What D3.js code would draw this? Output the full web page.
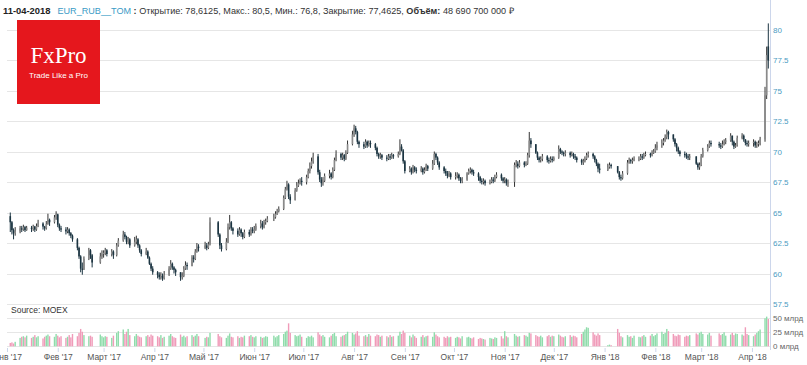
<!DOCTYPE html>
<html>
<head>
<meta charset="utf-8">
<script src="https://cdn.jsdelivr.net/npm/d3@7"></script>
<style>
  body { margin: 0; background: #fff; }
  svg { display: block; font-family: "Liberation Sans", Arial, sans-serif; }
</style>
</head>
<body>
<div id="chart-area"></div>
<script>
// trading calendar: weekdays minus exchange holidays
var holidays = ["2017-02-23", "2017-02-24", "2017-03-08", "2017-05-01", "2017-05-08", "2017-05-09",
  "2017-06-12", "2017-11-06", "2018-01-01", "2018-01-02", "2018-01-08", "2018-02-23",
  "2018-03-08", "2018-03-09"];

// daily closes, one line per month
var closes = [
  64.20, 63.55, 63.30, 63.45, 63.70, 63.60, 63.80, 63.55, 63.75, 63.65, 63.85, 63.60, 63.90, 64.10, 63.85, 63.70, 64.05, 64.40, 64.20, 64.60, 64.85,
  64.00, 63.70, 63.60, 63.45, 63.60, 63.30, 63.10, 62.80, 62.10, 61.40, 60.40, 60.30, 61.20, 61.90, 61.50, 60.90, 61.40, 61.60,
  61.70, 61.90, 61.60, 61.80, 61.50, 62.30, 62.70, 63.20, 63.00, 62.60, 62.80, 62.30, 62.60, 62.80, 62.30, 61.90, 61.60, 61.80, 61.30, 60.80, 60.40, 60.10,
  59.90, 59.70, 59.80, 59.60, 59.90, 60.40, 60.80, 60.50, 60.30, 60.10, 59.70, 59.80, 60.40, 60.70, 60.60, 61.30, 61.20, 61.80, 62.20, 62.10,
  62.30, 62.10, 62.40, 64.20, 63.20, 62.30, 62.00, 62.60, 63.80, 64.20, 63.70, 63.50, 63.20, 63.60, 63.30, 63.00, 63.40, 63.20, 63.60, 63.50,
  63.60, 63.90, 64.10, 63.80, 64.20, 64.30, 64.50, 64.60, 64.90, 65.10, 65.30, 66.20, 66.90, 67.30, 66.30, 66.00, 66.80, 67.20, 67.40, 67.60, 67.50,
  67.90, 68.40, 68.80, 69.20, 69.60, 68.30, 67.70, 67.40, 67.60, 68.00, 68.20, 67.90, 68.50, 69.30, 69.80, 69.50, 69.70, 69.40, 69.90, 70.60, 71.40,
  71.90, 71.60, 70.80, 70.60, 70.40, 70.80, 70.50, 70.70, 70.60, 70.30, 69.80, 69.60, 69.70, 69.50, 69.40, 69.60, 69.50, 69.70, 69.60, 69.80, 70.40, 70.10, 69.20,
  68.40, 68.60, 68.30, 68.70, 68.50, 68.40, 68.60, 68.30, 68.50, 68.80, 68.60, 69.00, 69.80, 69.50, 69.10, 68.70, 68.40, 68.20, 68.00, 68.20, 67.90,
  68.00, 68.10, 67.80, 67.60, 67.70, 68.20, 68.40, 68.50, 68.30, 68.20, 67.90, 67.60, 67.50, 67.60, 67.40, 67.50, 67.70, 67.60, 67.90, 68.10, 67.80, 67.60,
  67.70, 67.40, 67.50, 68.90, 69.00, 68.80, 69.10, 68.90, 69.00, 69.70, 70.90, 70.60, 69.90, 69.50, 69.30, 69.40, 69.60, 69.30, 69.20, 69.40, 69.30,
  69.50, 70.20, 70.00, 69.90, 69.80, 69.90, 69.70, 69.80, 69.60, 69.50, 69.30, 69.10, 69.20, 69.40, 69.70, 69.80, 69.60, 69.30, 69.00, 68.60, 68.50,
  68.70, 68.90, 68.80, 68.30, 67.90, 67.80, 68.20, 69.10, 69.30, 69.20, 69.30, 69.40, 69.40, 69.60, 69.50, 69.70, 69.80, 69.70, 69.90, 70.00,
  70.30, 70.50, 70.70, 70.90, 71.20, 71.60, 71.40, 71.00, 70.60, 70.30, 70.00, 69.80, 69.70, 69.60, 69.50, 69.60, 69.00, 68.70, 68.90,
  69.60, 70.10, 70.40, 70.70, 70.60, 70.50, 70.40, 70.60, 70.80, 70.90, 71.30, 70.80, 70.40, 70.50, 71.10, 71.30, 71.00, 70.70, 70.60, 70.70,
  70.80, 70.50, 70.60, 70.70, 71.00, 74.60, 77.90, 77.4625
];

var highs = [
  65.0, 64.3, 63.7, 63.8, 63.9, 63.9, 64.0, 63.9, 63.9, 63.9, 64.0, 63.9, 64.1, 64.4, 64.2, 63.9, 64.3, 64.9, 64.5, 64.8, 65.1,
  64.9, 64.1, 63.9, 63.8, 63.8, 63.7, 63.4, 63.2, 62.9, 62.2, 61.5, 60.9, 61.4, 62.1, 62.0, 61.6, 61.7, 61.9,
  61.9, 62.1, 62.0, 62.0, 61.9, 62.5, 62.9, 63.5, 63.4, 63.1, 63.0, 62.9, 63.0, 63.1, 62.9, 62.4, 62.0, 62.1, 61.9, 61.4, 60.9, 60.6,
  60.2, 60.1, 60.1, 60.0, 60.2, 60.6, 61.1, 60.9, 60.6, 60.4, 60.1, 60.1, 60.6, 61.0, 60.9, 61.5, 61.5, 62.0, 62.5, 62.4,
  62.6, 62.5, 62.6, 64.6, 64.3, 63.3, 62.5, 62.9, 64.1, 64.8, 64.3, 63.8, 63.7, 63.8, 63.7, 63.4, 63.6, 63.6, 63.8, 63.8,
  63.9, 64.1, 64.4, 64.3, 64.4, 64.5, 64.7, 64.9, 65.1, 65.3, 65.5, 66.4, 67.1, 67.6, 67.4, 66.5, 67.0, 67.5, 67.7, 67.8, 67.9,
  68.1, 68.6, 69.1, 69.5, 69.9, 69.8, 68.5, 67.9, 67.9, 68.2, 68.5, 68.3, 68.7, 69.5, 70.1, 69.9, 69.9, 69.8, 70.1, 70.9, 71.7,
  72.2, 72.1, 71.7, 70.9, 70.8, 71.0, 70.9, 70.9, 70.9, 70.7, 70.4, 69.9, 69.9, 69.8, 69.7, 69.8, 69.8, 69.9, 69.8, 70.0, 71.0, 70.6, 70.2,
  69.3, 68.8, 68.7, 68.9, 68.8, 68.7, 68.8, 68.7, 68.7, 69.0, 68.9, 69.3, 70.0, 69.9, 69.6, 69.2, 68.8, 68.6, 68.4, 68.4, 68.3,
  68.3, 68.3, 68.2, 67.9, 67.9, 68.3, 68.6, 68.7, 68.6, 68.5, 68.3, 68.0, 67.8, 67.8, 67.7, 67.7, 67.9, 67.9, 68.1, 68.3, 68.2, 67.9,
  67.9, 67.8, 67.7, 69.1, 69.3, 69.2, 69.3, 69.2, 69.2, 69.9, 71.6, 71.1, 70.6, 70.0, 69.6, 69.6, 69.8, 69.7, 69.5, 69.6, 69.6,
  69.6, 70.5, 70.3, 70.1, 70.0, 70.1, 70.0, 70.0, 69.9, 69.8, 69.6, 69.4, 69.4, 69.6, 69.9, 70.0, 69.9, 69.7, 69.4, 69.1, 69.0,
  69.0, 69.1, 69.0, 68.8, 68.4, 68.1, 68.4, 69.3, 69.5, 69.4, 69.5, 69.6, 69.6, 69.8, 69.8, 69.9, 70.0, 69.9, 70.1, 70.2,
  70.6, 70.8, 71.0, 71.1, 71.4, 71.8, 71.7, 71.4, 71.1, 70.7, 70.4, 70.1, 70.0, 69.9, 69.8, 69.8, 69.6, 69.1, 69.1,
  69.8, 70.3, 70.6, 70.9, 70.9, 70.8, 70.7, 70.9, 71.0, 71.1, 71.5, 71.3, 70.9, 70.7, 71.3, 71.5, 71.4, 71.0, 70.9, 70.9,
  71.0, 70.9, 70.8, 70.9, 71.2, 75.3, 78.6, 80.5
];

var lows = [
  63.4, 63.2, 62.8, 63.1, 63.3, 63.4, 63.5, 63.4, 63.5, 63.4, 63.5, 63.4, 63.5, 63.8, 63.6, 63.5, 63.6, 64.0, 63.9, 64.1, 64.4,
  63.8, 63.5, 63.4, 63.2, 63.3, 63.1, 62.9, 62.6, 61.9, 61.2, 60.1, 59.9, 60.3, 61.1, 61.2, 60.5, 60.8, 61.2,
  61.3, 61.5, 61.4, 61.4, 61.2, 61.4, 62.2, 62.6, 62.8, 62.4, 62.4, 62.1, 62.2, 62.4, 62.1, 61.7, 61.4, 61.5, 61.2, 60.7, 60.2, 59.9,
  59.6, 59.5, 59.5, 59.4, 59.5, 59.8, 60.3, 60.3, 60.0, 59.8, 59.4, 59.5, 59.7, 60.3, 60.3, 60.6, 60.9, 61.1, 61.7, 61.8,
  62.0, 61.9, 62.0, 62.3, 63.0, 62.0, 61.8, 61.9, 62.5, 63.6, 63.5, 63.2, 63.0, 63.1, 63.0, 62.8, 62.9, 63.0, 63.1, 63.3,
  63.3, 63.5, 63.7, 63.6, 63.7, 64.0, 64.2, 64.3, 64.5, 64.8, 65.0, 65.2, 66.1, 66.8, 66.1, 65.7, 66.0, 66.7, 67.1, 67.3, 67.2,
  67.3, 67.8, 68.2, 68.6, 69.0, 68.1, 67.5, 67.1, 67.2, 67.5, 67.8, 67.7, 67.8, 68.4, 69.2, 69.3, 69.3, 69.2, 69.3, 69.8, 70.5,
  71.2, 71.4, 70.6, 70.3, 70.2, 70.3, 70.3, 70.4, 70.3, 70.1, 69.6, 69.4, 69.4, 69.3, 69.2, 69.3, 69.3, 69.4, 69.4, 69.5, 69.7, 70.0, 69.0,
  68.2, 68.3, 68.1, 68.2, 68.3, 68.2, 68.3, 68.1, 68.2, 68.4, 68.4, 68.5, 68.9, 69.3, 68.9, 68.5, 68.2, 68.0, 67.8, 67.9, 67.7,
  67.7, 67.8, 67.6, 67.4, 67.4, 67.6, 68.1, 68.2, 68.1, 68.0, 67.6, 67.4, 67.3, 67.3, 67.2, 67.3, 67.4, 67.4, 67.5, 67.8, 67.6, 67.4,
  67.4, 67.2, 67.1, 67.1, 68.7, 68.6, 68.7, 68.7, 68.8, 68.9, 69.5, 70.3, 69.8, 69.3, 69.1, 69.1, 69.2, 69.1, 69.0, 69.1, 69.1,
  69.2, 69.4, 69.8, 69.7, 69.6, 69.6, 69.5, 69.6, 69.4, 69.3, 69.1, 68.9, 68.9, 69.1, 69.3, 69.5, 69.4, 69.1, 68.8, 68.3, 68.2,
  68.4, 68.6, 68.6, 68.2, 67.7, 67.6, 67.7, 68.1, 69.0, 69.0, 69.0, 69.2, 69.2, 69.3, 69.3, 69.4, 69.6, 69.5, 69.6, 69.8,
  69.9, 70.1, 70.3, 70.5, 70.8, 71.0, 71.0, 70.8, 70.4, 70.0, 69.8, 69.6, 69.5, 69.4, 69.3, 69.3, 68.9, 68.5, 68.5,
  68.8, 69.5, 70.0, 70.3, 70.4, 70.3, 70.2, 70.3, 70.5, 70.6, 70.8, 70.5, 70.2, 70.3, 70.4, 71.0, 70.8, 70.5, 70.4, 70.4,
  70.4, 70.3, 70.3, 70.4, 70.5, 70.8, 74.3, 76.8
];

// opens follow the previous close except on these days
var gapOpens = { "2017-01-03": 64.7, "2018-04-11": 78.6125 };

// daily volume, billions of roubles
var volumes = [
  6, 7, 5, 8, 15, 17, 18, 16, 19, 15, 17, 20, 16, 18, 14, 17, 19, 21, 18, 17, 22,
  19, 16, 18, 15, 17, 20, 16, 22, 18, 24, 31, 26, 20, 18, 19, 17, 21, 18,
  16, 18, 17, 15, 19, 24, 27, 30, 22, 26, 31, 20, 18, 22, 19, 17, 16, 18, 20, 17, 21, 19,
  18, 16, 20, 15, 17, 19, 22, 18, 16, 15, 21, 17, 19, 16, 18, 20, 17, 19, 22, 18,
  15, 17, 16, 24, 22, 18, 16, 15, 19, 23, 17, 16, 18, 15, 17, 16, 19, 18, 20, 17,
  16, 18, 17, 15, 16, 18, 17, 19, 16, 18, 20, 22, 26, 28, 41, 24, 20, 18, 19, 21, 17,
  15, 18, 17, 19, 16, 25, 21, 18, 20, 17, 16, 19, 22, 24, 18, 17, 19, 20, 22, 26, 24,
  21, 23, 27, 19, 18, 20, 17, 22, 19, 18, 21, 20, 17, 19, 18, 16, 20, 17, 18, 19, 26, 22, 28,
  24, 19, 16, 21, 18, 15, 17, 20, 16, 18, 19, 17, 25, 21, 18, 16, 17, 15, 18, 16, 17,
  15, 17, 16, 14, 18, 16, 17, 15, 14, 16, 13, 15, 14, 13, 12, 15, 14, 13, 16, 15, 18, 14,
  27, 18, 16, 22, 19, 17, 18, 20, 19, 17, 24, 23, 20, 18, 17, 19, 16, 18, 20, 17, 19,
  18, 21, 19, 17, 16, 18, 20, 17, 19, 18, 16, 22, 26, 30, 34, 33, 25, 21, 19, 23, 20,
  2, 3, 2, 31, 24, 18, 16, 20, 17, 18, 15, 19, 17, 16, 18, 20, 17, 19, 22, 18,
  20, 23, 26, 22, 24, 31, 27, 22, 19, 18, 21, 20, 17, 19, 18, 20, 23, 21, 24,
  26, 22, 21, 24, 19, 23, 20, 22, 25, 19, 21, 24, 20, 23, 22, 21, 19, 34, 22, 20,
  18, 21, 24, 27, 30, 50, 53, 48.69
];

var priceTicks = [57.5, 60, 62.5, 65, 67.5, 70, 72.5, 75, 77.5, 80];
var volumeTicks = [0, 25, 50];
var monthLabels = ["Янв '17", "Фев '17", "Март '17", "Апр '17", "Май '17", "Июн '17", "Июл '17", "Авг '17",
  "Сен '17", "Окт '17", "Ноя '17", "Дек '17", "Янв '18", "Фев '18", "Март '18", "Апр '18"];

var width = 807, height = 365;
var fmt = d3.timeFormat("%Y-%m-%d");

var days = d3.timeDay.range(new Date(2017, 0, 3), new Date(2018, 3, 12))
	.filter(function(d) { return d.getDay() !== 0 && d.getDay() !== 6 && holidays.indexOf(fmt(d)) < 0; });

var data = days.map(function(d, i) {
	var key = fmt(d);
	var open = gapOpens[key] !== undefined ? gapOpens[key] : closes[i - 1];
	var close = closes[i];
	return {
		date: d, open: open, close: close,
		high: Math.max(highs[i], open, close),
		low: Math.min(lows[i], open, close),
		volume: volumes[i]
	};
});

var svg = d3.select("#chart-area")
	.append("svg")
		.attr("width", width)
		.attr("height", height);

var x = d3.scaleTime()
	.domain([new Date(2017, 0, 1), new Date(2018, 3, 11)])
	.range([7, 768.3]);

var y = d3.scaleLinear()
	.domain([57.5, 80])
	.range([304, 29.5]);

var yv = d3.scaleLinear()
	.domain([0, 50])
	.range([346.3, 318.3]);

var axisX = 770;

// grid
svg.append("g").selectAll("line")
	.data(priceTicks).enter()
	.append("line")
		.attr("x1", 7).attr("x2", axisX)
		.attr("y1", function(d) { return Math.round(y(d)) + 0.5; })
		.attr("y2", function(d) { return Math.round(y(d)) + 0.5; })
		.attr("stroke", "#e6e6e6");

svg.append("g").selectAll("line")
	.data(volumeTicks).enter()
	.append("line")
		.attr("x1", 7).attr("x2", axisX)
		.attr("y1", function(d) { return Math.round(yv(d)) + 0.5; })
		.attr("y2", function(d) { return Math.round(yv(d)) + 0.5; })
		.attr("stroke", "#e6e6e6");

// volume bars
svg.append("g").selectAll("rect")
	.data(data).enter()
	.append("rect")
		.attr("x", function(d) { return x(d.date) - 0.7; })
		.attr("y", function(d) { return yv(d.volume); })
		.attr("width", 1.4)
		.attr("height", function(d) { return yv(0) - yv(d.volume); })
		.attr("fill", function(d) { return d.close >= d.open ? "#8fdcab" : "#f09bb9"; });

// candles
var candles = svg.append("g").selectAll("g")
	.data(data).enter()
	.append("g");

candles.append("line")
	.attr("x1", function(d) { return x(d.date); })
	.attr("x2", function(d) { return x(d.date); })
	.attr("y1", function(d) { return y(d.high); })
	.attr("y2", function(d) { return y(d.low); })
	.attr("stroke", function(d) { return d.close >= d.open ? "#333" : "#1b3441"; })
	.attr("stroke-width", 1);

candles.append("rect")
	.attr("x", function(d) { return x(d.date) - 0.8; })
	.attr("y", function(d) { return y(Math.max(d.open, d.close)); })
	.attr("width", 1.6)
	.attr("height", function(d) { return Math.max(0.8, Math.abs(y(d.open) - y(d.close))); })
	.attr("fill", function(d) { return d.close >= d.open ? "#8a8a8a" : "#1b3441"; });

// right axis line
svg.append("line")
	.attr("x1", axisX + 0.5).attr("x2", axisX + 0.5)
	.attr("y1", 0).attr("y2", 350)
	.attr("stroke", "#ccd6eb");

var priceAxis = d3.axisRight(y)
	.tickValues(priceTicks)
	.tickSize(0)
	.tickPadding(3)
	.tickFormat(function(d) { return d; });
var pa = svg.append("g")
	.attr("class", "price axis")
	.attr("transform", "translate(" + axisX + ",0)")
	.call(priceAxis);
pa.select(".domain").remove();
pa.selectAll("text")
	.attr("font-size", "8px")
	.attr("font-family", "'Liberation Sans', Arial, sans-serif")
	.attr("fill", "#4b9bc2");

var volAxis = d3.axisRight(yv)
	.tickValues(volumeTicks)
	.tickSize(0)
	.tickPadding(3)
	.tickFormat(function(d) { return d + " млрд"; });
var va = svg.append("g")
	.attr("class", "volume axis")
	.attr("transform", "translate(" + axisX + ",0)")
	.call(volAxis);
va.select(".domain").remove();
va.selectAll("text")
	.attr("font-size", "8px")
	.attr("font-family", "'Liberation Sans', Arial, sans-serif")
	.attr("fill", "#666");

// month axis
var months = d3.timeMonth.range(new Date(2017, 0, 1), new Date(2018, 3, 2));
var monthAxis = d3.axisBottom(x)
	.tickValues(months)
	.tickSize(4)
	.tickPadding(2)
	.tickFormat(function(d, i) { return monthLabels[i]; });
var ma = svg.append("g")
	.attr("class", "bottom axis")
	.attr("transform", "translate(0,348)")
	.call(monthAxis);
ma.select(".domain").remove();
ma.selectAll("line").attr("stroke", "#ccd6eb");
ma.selectAll("text")
	.attr("font-size", "8.5px")
	.attr("font-family", "'Liberation Sans', Arial, sans-serif")
	.attr("fill", "#555");

svg.append("text")
	.attr("x", 11)
	.attr("y", 313)
	.attr("font-size", "8.5px")
	.attr("fill", "#333")
	.text("Source: MOEX");

// header line
var header = svg.append("text")
	.attr("x", 3)
	.attr("y", 14)
	.attr("font-size", "9.1px")
	.attr("fill", "#333");
header.append("tspan").attr("font-weight", "bold").attr("font-size", "9.4px").attr("fill", "#222").text("11-04-2018");
header.append("tspan").attr("dx", 7).attr("fill", "#3a9bc6").text("EUR_RUB__TOM");
header.append("tspan").attr("font-weight", "bold").text(" : ");
header.append("tspan").text("Открытие: 78,6125, Макс.: 80,5, Мин.: 76,8, Закрытие: 77,4625, ");
header.append("tspan").attr("font-weight", "bold").text("Объём:");
header.append("tspan").text(" 48 690 700 000 ₽");

// logo
var logo = svg.append("g");
logo.append("rect")
	.attr("x", 17).attr("y", 20)
	.attr("width", 83).attr("height", 84)
	.attr("fill", "#e5171d");
logo.append("text")
	.attr("x", 58.5).attr("y", 63)
	.attr("text-anchor", "middle")
	.attr("font-family", "'Liberation Serif', 'DejaVu Serif', serif")
	.attr("font-size", "23px")
	.attr("fill", "#fff")
	.text("FxPro");
logo.append("text")
	.attr("x", 58.5).attr("y", 78)
	.attr("text-anchor", "middle")
	.attr("font-size", "8px")
	.attr("fill", "#fff")
	.text("Trade Like a Pro");
</script>
</body>
</html>
